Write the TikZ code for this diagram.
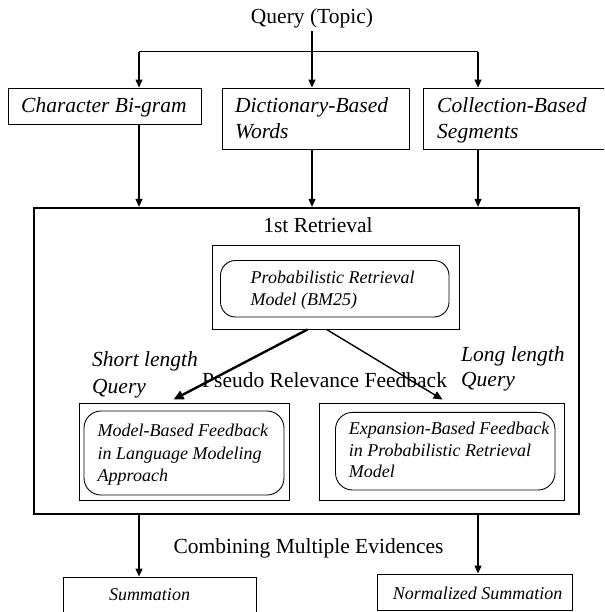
\documentclass[tikz,border=0pt]{standalone}
\usepackage{fontspec}
\setmainfont{Liberation Serif}
\usetikzlibrary{arrows.meta,calc}
\begin{document}
\begin{tikzpicture}[x=1pt,y=-1pt,
  big/.style={font=\fontsize{21.5}{26}\selectfont, inner sep=0pt, yshift=-4.5pt},
  bigi/.style={font=\fontsize{21.5}{26}\selectfont\itshape, inner sep=0pt, anchor=mid west, yshift=-4.5pt},
  smalli/.style={font=\fontsize{18}{22}\selectfont\itshape, inner sep=0pt, anchor=mid west, yshift=-4pt},
  smallc/.style={font=\fontsize{18}{22}\selectfont\itshape, inner sep=0pt, anchor=mid, yshift=-4pt},
  rect/.style={draw, line width=0.9pt, inner sep=0pt},
  rbox/.style={draw, line width=0.9pt, inner sep=0pt, rounded corners=15pt},
  arr/.style={-{Triangle[length=8pt,width=7pt]}, line width=1.2pt},
  conn/.style={line width=1.2pt}]
\useasboundingbox (0,0) rectangle (604,612);
\clip (0,0) rectangle (604,612);

% top
\node[big, anchor=mid] (q) at (312,17) {Query (Topic)};
\coordinate (qs) at (312,31.4);
\coordinate (jl) at (139,51.6);
\coordinate (jr) at (478,51.6);

\node[rect, minimum width=193pt, minimum height=36pt] (cb) at (104.5,106) {};
\node[bigi] (cbt) at (21,106) {Character Bi-gram};
\node[rect, minimum width=187pt, minimum height=61pt] (db) at (315.5,118.5) {};
\node[bigi] (dbt1) at (235,105.5) {Dictionary-Based};
\node[bigi] (dbt2) at (235,131.5) {Words};
\node[rect, minimum width=197pt, minimum height=61pt] (colb) at (521.5,118.5) {};
\node[bigi] (colt1) at (437,105.5) {Collection-Based};
\node[bigi] (colt2) at (437,131.5) {Segments};

\draw[conn] (jl) -- (jr);
\draw[arr] (qs) -- (qs |- db.north);
\draw[arr] (jl) -- (jl |- cb.north);
\draw[arr] (jr) -- (jr |- colb.north);

% big box
\node[draw, line width=2.3pt, inner sep=0pt, minimum width=545pt, minimum height=306pt] (bb) at (306.5,361) {};
\draw[arr] (jl |- cb.south) -- (jl |- bb.north);
\draw[arr] (qs |- db.south) -- (qs |- bb.north);
\draw[arr] (jr |- colb.south) -- (jr |- bb.north);

\node[big, anchor=mid] (fr) at (318,225.7) {1st Retrieval};
\node[rect, minimum width=247pt, minimum height=84pt] (pb) at (335.5,287) {};
\node[rbox, minimum width=228.5pt, minimum height=56.5pt] (pr) at (334.75,288.75) {};
\node[smalli] (pt1) at (250.5,276.8) {Probabilistic Retrieval};
\node[smalli] (pt2) at (250.5,299) {Model (BM25)};

% lower boxes
\node[rect, minimum width=210pt, minimum height=96.5pt] (lb) at (184,451.75) {};
\node[rbox, rounded corners=17pt, minimum width=200pt, minimum height=84pt] (lr) at (184,453) {};
\node[smalli] (lt1) at (97.5,430.7) {Model-Based Feedback};
\node[smalli] (lt2) at (97.5,453) {in Language Modeling};
\node[smalli] (lt3) at (97.5,474.8) {Approach};

\node[rect, minimum width=244.5pt, minimum height=96.5pt] (rb) at (441.75,451.75) {};
\node[rbox, rounded corners=17pt, minimum width=219.5pt, minimum height=77.6pt] (rr) at (445.25,451.2) {};
\node[smalli] (rt1) at (348.6,428) {Expansion-Based Feedback};
\node[smalli] (rt2) at (348.6,450) {in Probabilistic Retrieval};
\node[smalli] (rt3) at (348.6,471.6) {Model};

% labels
\node[bigi] (sl1) at (92,360) {Short length};
\node[bigi] (sl2) at (92,387) {Query};
\node[bigi] (ll1) at (461,354.7) {Long length};
\node[bigi] (ll2) at (461,380) {Query};
\node[big, anchor=mid west] (prf) at (202,381) {Pseudo Relevance Feedback};

\draw[-{Triangle[length=10pt,width=9pt]}, line width=2.4pt] ($(pb.south west)+(96,0)$) -- ($(lb.north west)+(95,-3.5)$);
\draw[-{Triangle[length=9pt,width=8pt]}, line width=1.4pt] ($(pb.south west)+(115,0)$) -- ($(rb.north west)+(123.5,-3.5)$);

% bottom
\node[big, anchor=mid] (cme) at (308.6,547) {Combining Multiple Evidences};
\node[rect, minimum width=193.5pt, minimum height=63pt] (sb) at (159.75,608.5) {};
\node[smallc] (st) at (149.5,594) {Summation};
\node[rect, minimum width=194.5pt, minimum height=36.5pt] (nb) at (474.75,592.25) {};
\node[smallc] (nt) at (477.5,593) {Normalized Summation};
\draw[arr] (jl |- bb.south) -- (jl |- sb.north);
\draw[arr] (jr |- bb.south) -- (jr |- nb.north);
\end{tikzpicture}
\end{document}
